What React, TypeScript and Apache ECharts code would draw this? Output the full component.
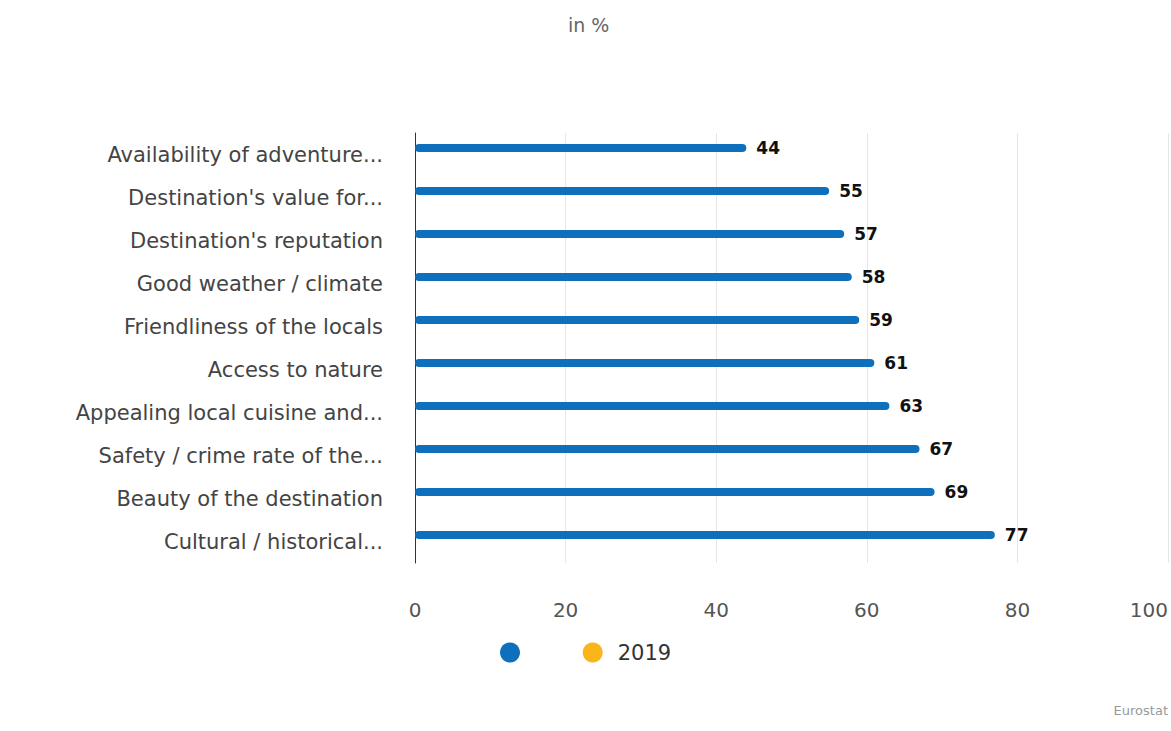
import React, { useEffect, useRef } from "react";
import * as echarts from "echarts";

const categories = [
  "Availability of adventure...",
  "Destination's value for...",
  "Destination's reputation",
  "Good weather / climate",
  "Friendliness of the locals",
  "Access to nature",
  "Appealing local cuisine and...",
  "Safety / crime rate of the...",
  "Beauty of the destination",
  "Cultural / historical...",
];
const values = [44, 55, 57, 58, 59, 61, 63, 67, 69, 77];
const values2019: number[] = [];
const xTicks = [0, 20, 40, 60, 80, 100];

const FONT = "DejaVu Sans";

export default function App() {
  const ref = useRef<HTMLDivElement>(null);
  useEffect(() => {
    if (!ref.current) return;
    const chart = echarts.init(ref.current, undefined, { renderer: "svg" });
    chart.setOption({
      animation: false,
      textStyle: { fontFamily: FONT },
      title: {
        text: "in %",
        left: 563,
        top: 10,
        textStyle: { fontSize: 19, color: "#666", fontWeight: "normal", fontFamily: FONT },
      },
      legend: {
        top: 642,
        left: 500,
        padding: 0,
        itemWidth: 20,
        itemHeight: 20,
        itemGap: 41,
        icon: "circle",
        textStyle: { fontSize: 21, color: "#333", fontFamily: FONT, padding: [0, 0, 0, 10] },
        data: [{ name: " " }, { name: "2019" }],
      },
      graphic: [
        {
          type: "text",
          right: 3,
          top: 704,
          style: { text: "Eurostat", fontSize: 13, fill: "#999", fontFamily: FONT },
        },
      ],
      grid: { left: 415, right: 0, top: 133, bottom: 168 },
      xAxis: {
        type: "value",
        min: xTicks[0],
        max: xTicks[xTicks.length - 1],
        interval: 20,
        axisLine: { show: false },
        axisTick: { show: false },
        splitLine: { lineStyle: { color: "#e6e6e6" } },
        axisLabel: {
          fontSize: 20,
          color: "#555",
          margin: 37,
          alignMaxLabel: "right",
          fontFamily: FONT,
        },
      },
      yAxis: {
        type: "category",
        inverse: true,
        data: categories,
        axisLine: { show: true, lineStyle: { color: "#333" } },
        axisTick: { show: false },
        axisLabel: { fontSize: 21, color: "#444", margin: 32, fontFamily: FONT },
      },
      series: [
        {
          name: " ",
          type: "bar",
          data: values,
          barWidth: 8,
          barGap: "62.5%",
          itemStyle: { color: "#0e6fbd", borderRadius: 4 },
          label: {
            show: true,
            position: "right",
            distance: 10,
            fontSize: 17,
            fontWeight: "bold",
            color: "#111",
            fontFamily: FONT,
          },
        },
        {
          name: "2019",
          type: "bar",
          data: values2019,
          barWidth: 8,
          barGap: "62.5%",
          itemStyle: { color: "#f9b51a", borderRadius: 4 },
        },
      ],
    });
    return () => chart.dispose();
  }, []);
  return (
    <div
      ref={ref}
      style={{ position: "fixed", left: 0, top: 0, width: 1171, height: 731, background: "#fff" }}
    />
  );
}
